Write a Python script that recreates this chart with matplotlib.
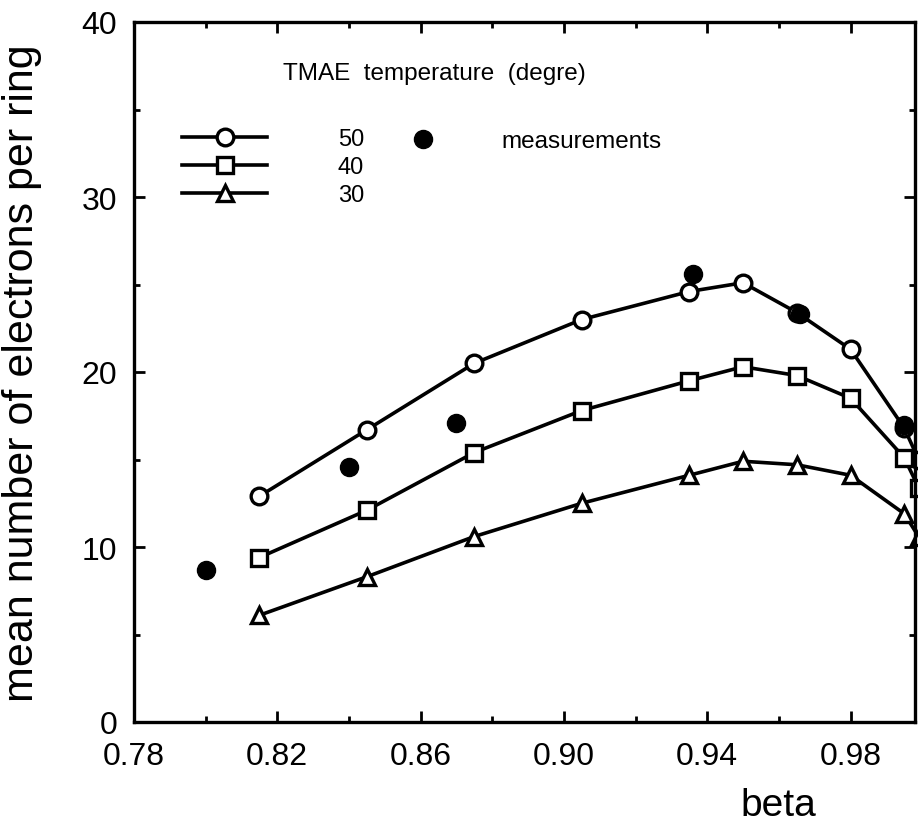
import numpy as np
import matplotlib.pyplot as plt

# computed curves for three TMAE temperatures
beta_calc = [0.815, 0.845, 0.875, 0.905, 0.935, 0.95, 0.965, 0.98, 0.995, 0.999]
n50 = [12.9, 16.7, 20.5, 23.0, 24.6, 25.1, 23.4, 21.3, 16.8, 15.0]
n40 = [9.4, 12.1, 15.4, 17.8, 19.5, 20.3, 19.8, 18.5, 15.1, 13.4]
n30 = [6.1, 8.3, 10.6, 12.5, 14.1, 14.9, 14.7, 14.1, 11.9, 10.6]

# measurements
beta_meas = [0.80, 0.84, 0.87, 0.936, 0.966, 0.995]
n_meas = [8.7, 14.6, 17.1, 25.6, 23.3, 17.0]

plt.rcParams['font.family'] = ['Liberation Sans', 'DejaVu Sans']

fig = plt.figure(figsize=(9.18, 8.29), dpi=100)
ax = fig.add_axes([134/918, 106/829, 781/918, 700/829])

style = dict(color='black', linewidth=2.6, markersize=12, markeredgewidth=2.4,
             markerfacecolor='white', clip_on=False)
l50, = ax.plot(beta_calc, n50, marker='o', **style)
l40, = ax.plot(beta_calc, n40, marker='s', **style)
l30, = ax.plot(beta_calc, n30, marker='^', **style)
meas, = ax.plot(beta_meas, n_meas, 'o', color='black', markersize=13,
                zorder=5, clip_on=False)

ax.set_xlim(0.78, 0.998)
ax.set_ylim(0, 40)
ax.set_xticks(np.arange(0.78, 0.99, 0.04))
ax.set_xticklabels(['0.78', '0.82', '0.86', '0.90', '0.94', '0.98'])
ax.set_xticks(np.arange(0.80, 1.0, 0.04), minor=True)
ax.set_yticks([0, 10, 20, 30, 40])
ax.set_yticks([5, 15, 25, 35], minor=True)

for s in ax.spines.values():
    s.set_linewidth(2.4)
ax.tick_params(which='both', direction='in', top=True, right=True, width=2)
ax.tick_params(which='major', length=8, labelsize=23)
ax.tick_params(axis='x', which='major', pad=14)
ax.tick_params(axis='y', which='major', pad=12)
ax.tick_params(which='minor', length=4)

ax.set_xlabel('beta', fontsize=28)
ax.xaxis.set_label_coords(0.8246, -0.093)
ax.set_ylabel('mean number of electrons per ring', fontsize=31)
ax.yaxis.set_label_coords(-0.118, 0.5)

ax.text(0.1908, 0.927, 'TMAE  temperature  (degre)', transform=ax.transAxes,
        fontsize=17.5, ha='left', va='center')

leg1 = ax.legend([l50, l40, l30], ['50', '40', '30'], loc='upper left',
                 bbox_to_anchor=(0.0615, 0.848), frameon=False, fontsize=17,
                 handlelength=3.6, handletextpad=3.0, labelspacing=0.25,
                 borderpad=0, borderaxespad=0, numpoints=1)
ax.add_artist(leg1)
ax.legend([meas], ['measurements'], loc='center left',
          bbox_to_anchor=(0.3547, 0.83), frameon=False, fontsize=17.5,
          handlelength=1.0, handletextpad=2.7, borderpad=0, borderaxespad=0)

plt.savefig('out.png', dpi=100)
